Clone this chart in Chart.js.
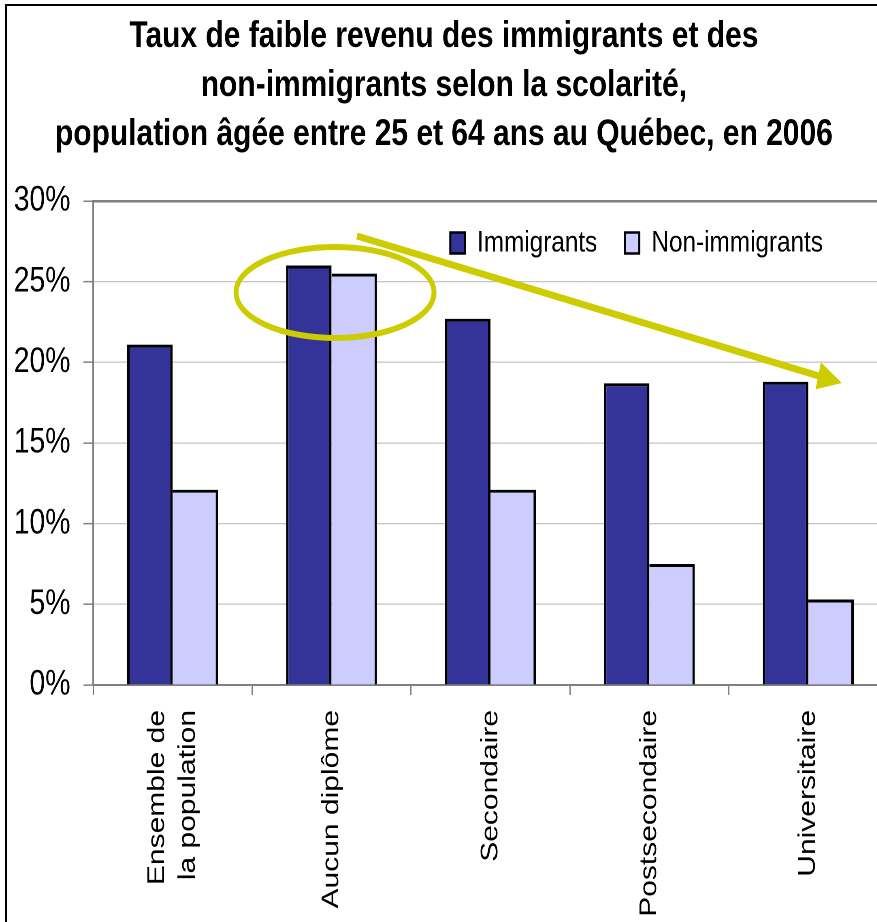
<!DOCTYPE html>
<html><head><meta charset="utf-8">
<script src="https://cdn.jsdelivr.net/npm/chart.js@4"></script>
<style>
html,body{margin:0;padding:0;background:#fff;overflow:hidden;width:877px;height:922px;}
#wrap{position:absolute;left:0;top:0;width:1096px;height:922px;transform:scaleX(0.81);transform-origin:0 0;}
#frame{position:absolute;left:5px;top:4px;width:900px;height:940px;border-left:2px solid #000;border-top:2px solid #000;pointer-events:none;}
</style></head><body>
<div id="wrap"><canvas id="c" width="1096" height="922"></canvas></div>
<div id="frame"></div>
<script>
// ---- data ----
const categories = [['Ensemble de', 'la population'], 'Aucun diplôme', 'Secondaire', 'Postsecondaire', 'Universitaire'];
const seriesNames = ['Immigrants', 'Non-immigrants'];
const immigrants = [21.1, 26.0, 22.7, 18.7, 18.8];
const nonImmigrants = [12.1, 25.5, 12.1, 7.5, 5.3];
const yTicks = [0, 5, 10, 15, 20, 25, 30];
const titleLines = [
  'Taux de faible revenu des immigrants et des',
  'non-immigrants selon la scolarité,',
  'population âgée entre 25 et 64 ans au Québec, en 2006'
];

// ---- annotations (in data units: category index, percent) ----
const highlight = { center: [1.022, 24.33], radius: [0.623, 2.82] };
const trendArrow = { from: [1.16, 27.83], to: [4.211, 18.72] };

const FONT = "'Liberation Sans', Arial, sans-serif";
const ANNOT = '#cccc00';
const LEGEND_PAD = 34;

const annotationPlugin = {
  id: 'annot',
  afterDatasetsDraw(chart) {
    const { ctx, scales: { x, y } } = chart;
    ctx.save();
    ctx.strokeStyle = ANNOT; ctx.fillStyle = ANNOT;
    const cx = x.getPixelForValue(highlight.center[0]);
    const cy = y.getPixelForValue(highlight.center[1]);
    const rx = Math.abs(x.getPixelForValue(highlight.center[0] + highlight.radius[0]) - cx);
    const ry = Math.abs(y.getPixelForValue(highlight.center[1] + highlight.radius[1]) - cy);
    ctx.lineWidth = 6;
    ctx.beginPath(); ctx.ellipse(cx, cy, rx, ry, 0, 0, Math.PI * 2); ctx.stroke();
    const x1 = x.getPixelForValue(trendArrow.from[0]), y1 = y.getPixelForValue(trendArrow.from[1]);
    const x2 = x.getPixelForValue(trendArrow.to[0]), y2 = y.getPixelForValue(trendArrow.to[1]);
    const a = Math.atan2(y2 - y1, x2 - x1), c = Math.cos(a), s = Math.sin(a);
    const hl = 30, hw = 14;
    const bx = x2 - hl * c, by = y2 - hl * s;
    ctx.lineWidth = 7; ctx.lineCap = 'butt';
    ctx.beginPath(); ctx.moveTo(x1, y1); ctx.lineTo(bx + 2 * c, by + 2 * s); ctx.stroke();
    ctx.beginPath(); ctx.moveTo(x2, y2);
    ctx.lineTo(bx - hw * s, by + hw * c); ctx.lineTo(bx + hw * s, by - hw * c);
    ctx.closePath(); ctx.fill();
    ctx.restore();
  }
};

const layoutFixPlugin = {
  id: 'layoutFix',
  beforeDraw(chart) {
    // legend placed inside plot area, top right
    const lg = chart.legend, ca = chart.chartArea;
    if (lg) {
      lg.top = ca.top + 27 - LEGEND_PAD;
      lg.bottom = ca.top + 80;
      lg.height = lg.bottom - lg.top;
      lg.right = ca.right - (80 - LEGEND_PAD);
    }
    // center multi-line rotated x labels on their tick
    const xs = chart.scales.x;
    const items = xs.getLabelItems();
    items.forEach(it => {
      const n = Array.isArray(it.label) ? it.label.length : 1;
      if (n > 1 && !it._shifted) {
        it.options.translation[0] -= (n - 1) * it.font.lineHeight / 2;
        it._shifted = true;
      }
    });
  }
};

new Chart(document.getElementById('c'), {
  type: 'bar',
  data: {
    labels: categories,
    datasets: [
      { label: seriesNames[0], data: immigrants, backgroundColor: '#333399', borderColor: '#000',
        borderWidth: { top: 3, left: 3, right: 3, bottom: 0 } },
      { label: seriesNames[1], data: nonImmigrants, backgroundColor: '#ccccff', borderColor: '#000',
        borderWidth: { top: 3, left: 0, right: 3, bottom: 0 } }
    ]
  },
  options: {
    responsive: false,
    devicePixelRatio: 2,
    animation: false,
    categoryPercentage: 0.572,
    barPercentage: 1,
    layout: { padding: 0 },
    plugins: {
      tooltip: { enabled: false },
      title: {
        display: true, text: titleLines, color: '#000',
        font: { family: FONT, size: 37, weight: 'bold', lineHeight: 49 / 37 },
        padding: { top: 12.5, bottom: 41 }
      },
      legend: {
        position: 'top', align: 'end', maxHeight: 0.5,
        labels: {
          color: '#000', font: { family: FONT, size: 30 },
          boxWidth: 18, boxHeight: 21, padding: LEGEND_PAD,
          generateLabels(chart) {
            const items = Chart.defaults.plugins.legend.labels.generateLabels(chart);
            items.forEach(i => { i.lineWidth = 2.5; i.strokeStyle = '#000'; });
            return items;
          }
        }
      }
    },
    scales: {
      x: {
        grid: { offset: true, drawOnChartArea: false, drawTicks: true, tickLength: 10, color: '#808080', lineWidth: 1.5 },
        border: { display: true, color: '#808080', width: 2 },
        ticks: { color: '#000', font: { family: FONT, size: 30, lineHeight: 1.27 },
                 minRotation: 90, maxRotation: 90, autoSkip: false, padding: 15 },
        afterFit(scale) { scale.height = 237; }
      },
      y: {
        min: 0, max: 30,
        afterBuildTicks(scale) { scale.ticks = yTicks.map(v => ({ value: v })); },
        grid: {
          color: ctx => (ctx.tick && ctx.tick.value === 30) ? '#808080' : '#c4c4c4',
          lineWidth: ctx => (ctx.tick && ctx.tick.value === 30) ? 2.5 : 1.3,
          drawTicks: true, tickLength: 12, tickColor: '#808080', tickWidth: 1.5
        },
        border: { display: true, color: '#808080', width: 2 },
        ticks: { color: '#000', font: { family: FONT, size: 35 }, padding: 16,
                 callback: v => v + '%' },
        afterFit(scale) { scale.width = 115; }
      }
    }
  },
  plugins: [annotationPlugin, layoutFixPlugin]
});
</script>
</body></html>
